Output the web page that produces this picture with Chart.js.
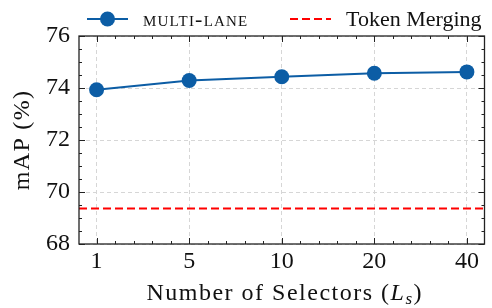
<!DOCTYPE html>
<html>
<head>
<meta charset="utf-8">
<script src="https://cdn.jsdelivr.net/npm/chart.js@4.4.0/dist/chart.umd.min.js"></script>
<style>
  html, body { margin: 0; padding: 0; background: #fff; }
  #wrap { width: 492px; height: 308px; }
</style>
</head>
<body>
<div id="wrap"><canvas id="chart" width="492" height="308"></canvas></div>
<script>
// data
const selectorLabels = ['1', '5', '10', '20', '40'];
const multiLaneMap = [73.93, 74.29, 74.43, 74.57, 74.62];
const tokenMergingMap = 69.37;
const yTicks = [68, 70, 72, 74, 76];

const serif = '"Liberation Serif", "DejaVu Serif", serif';
const blue = '#0C5DA5';
const red = '#FF0000';
const ink = '#111';
const xMin = -0.19, xMax = selectorLabels.length - 1 + 0.19;

// frame with inward ticks on all four sides, titles and legend
const framePlugin = {
  id: 'frame',
  afterDatasetsDraw(chart) {
    const { ctx, chartArea: a, scales } = chart;
    const x = scales.x, y = scales.y;
    ctx.save();
    ctx.strokeStyle = '#222';
    ctx.lineWidth = 1.3;
    ctx.strokeRect(a.left, a.top, a.right - a.left, a.bottom - a.top);
    ctx.lineWidth = 1;
    ctx.beginPath();
    for (let v = 0; v <= selectorLabels.length - 1 + 1e-6; v += 0.2) {
      const px = Math.round(x.getPixelForValue(v)) + 0.5;
      const major = Math.abs(v - Math.round(v)) < 1e-6;
      const len = major ? 6 : 3;
      ctx.moveTo(px, a.bottom); ctx.lineTo(px, a.bottom - len);
      ctx.moveTo(px, a.top); ctx.lineTo(px, a.top + len);
    }
    for (let v = yTicks[0]; v <= yTicks[yTicks.length - 1] + 1e-6; v += 0.5) {
      const py = Math.round(y.getPixelForValue(v)) + 0.5;
      const major = yTicks.includes(v);
      const len = major ? 6 : 3;
      ctx.moveTo(a.left, py); ctx.lineTo(a.left + len, py);
      ctx.moveTo(a.right, py); ctx.lineTo(a.right - len, py);
    }
    ctx.stroke();
    ctx.restore();
  },
  afterDraw(chart) {
    const { ctx, chartArea: a } = chart;
    ctx.save();
    ctx.fillStyle = ink;
    ctx.textBaseline = 'alphabetic';

    // x axis title: Number of Selectors (L_s)
    ctx.letterSpacing = '1.5px';
    const parts = [
      { t: 'Number of Selectors (', f: '24px ' + serif, dy: 0 },
      { t: 'L', f: 'italic 24px ' + serif, dy: 0 },
      { t: 's', f: 'italic 17px ' + serif, dy: 4 },
      { t: ')', f: '24px ' + serif, dy: 0 }
    ];
    let w = 0;
    parts.forEach(p => { ctx.font = p.f; w += ctx.measureText(p.t).width; });
    let cx = (a.left + a.right) / 2 - w / 2 + 3;
    parts.forEach(p => {
      ctx.font = p.f;
      ctx.fillText(p.t, cx, 300 + p.dy);
      cx += ctx.measureText(p.t).width;
    });

    // y axis title
    ctx.save();
    ctx.translate(29, (a.top + a.bottom) / 2);
    ctx.rotate(-Math.PI / 2);
    ctx.textAlign = 'center';
    ctx.letterSpacing = '1.3px';
    ctx.font = '24px ' + serif;
    ctx.fillText('mAP (%)', 0, 0);
    ctx.restore();

    // legend
    const ly = 19;
    ctx.strokeStyle = blue;
    ctx.lineWidth = 2;
    ctx.beginPath(); ctx.moveTo(87, ly); ctx.lineTo(128, ly); ctx.stroke();
    ctx.fillStyle = blue;
    ctx.beginPath(); ctx.arc(107.5, ly, 7.5, 0, Math.PI * 2); ctx.fill();
    ctx.fillStyle = ink;
    ctx.font = '22px ' + serif;
    ctx.letterSpacing = '1.2px';
    ctx.fontVariantCaps = 'small-caps';
    ctx.fillText('multi-lane', 143, 26);
    ctx.fontVariantCaps = 'normal';
    ctx.letterSpacing = '0px';
    ctx.strokeStyle = red;
    ctx.setLineDash([8, 4]);
    ctx.beginPath(); ctx.moveTo(290, ly); ctx.lineTo(331, ly); ctx.stroke();
    ctx.setLineDash([]);
    ctx.fillText('Token Merging', 346, 26);
    ctx.restore();
  }
};

const ctx = document.getElementById('chart').getContext('2d');
new Chart(ctx, {
  type: 'line',
  data: {
    datasets: [
      {
        label: 'Multi-lane',
        data: multiLaneMap.map((v, i) => ({ x: i, y: v })),
        borderColor: blue,
        backgroundColor: blue,
        borderWidth: 2,
        pointRadius: 7.5,
        pointHoverRadius: 7.5,
        pointBorderWidth: 0,
        tension: 0
      },
      {
        label: 'Token Merging',
        data: [{ x: xMin, y: tokenMergingMap }, { x: xMax, y: tokenMergingMap }],
        borderColor: red,
        borderWidth: 2,
        borderDash: [8, 4],
        pointRadius: 0,
        pointHoverRadius: 0
      }
    ]
  },
  options: {
    responsive: false,
    devicePixelRatio: 1,
    animation: false,
    layout: { padding: { top: 36, right: 1, left: 0, bottom: 0 } },
    plugins: { legend: { display: false }, tooltip: { enabled: false } },
    scales: {
      x: {
        type: 'linear',
        min: xMin,
        max: xMax,
        afterBuildTicks: scale => { scale.ticks = selectorLabels.map((_, i) => ({ value: i })); },
        afterFit: scale => { scale.height = 64; },
        ticks: {
          callback: v => selectorLabels[v],
          color: ink,
          font: { family: serif, size: 24 },
          padding: 3,
          maxRotation: 0
        },
        grid: { color: '#d6d6d6', lineWidth: 1, drawTicks: false },
        border: { display: false, dash: [4, 3] }
      },
      y: {
        min: 68,
        max: 76,
        afterBuildTicks: scale => { scale.ticks = yTicks.map(v => ({ value: v })); },
        afterFit: scale => { scale.width = 79; },
        ticks: {
          color: ink,
          font: { family: serif, size: 24 },
          padding: 9
        },
        grid: { color: '#d6d6d6', lineWidth: 1, drawTicks: false },
        border: { display: false, dash: [4, 3] }
      }
    }
  },
  plugins: [framePlugin]
});
</script>
</body>
</html>
